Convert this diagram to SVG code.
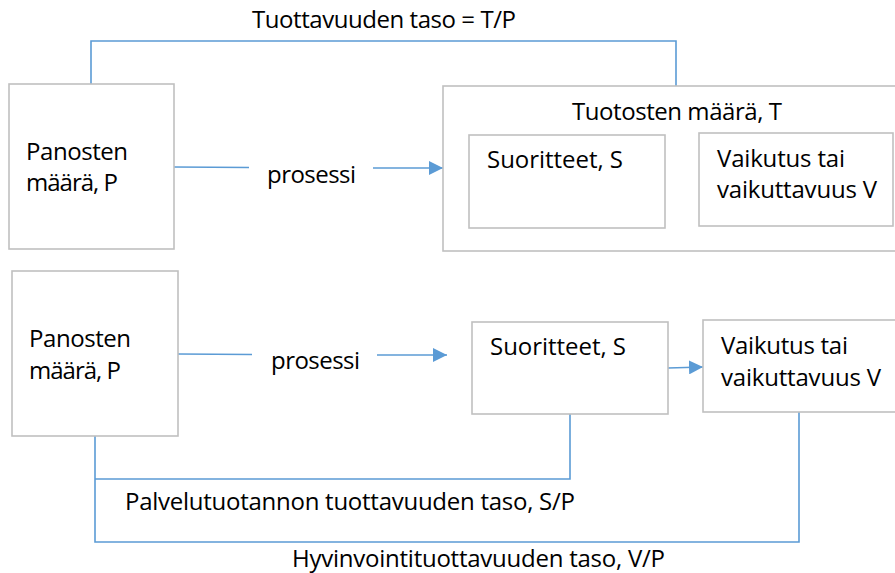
<svg xmlns="http://www.w3.org/2000/svg" width="895" height="573" viewBox="0 0 895 573">
<style>
.box{fill:#ffffff;stroke:#c0c0c0;stroke-width:1.6}
.conn{fill:none;stroke:#5b9bd5;stroke-width:1.6}
.t{font-family:"Open Sans","Noto Sans","Liberation Sans",sans-serif;font-size:24px;fill:#000000}
</style>
<defs>
<marker id="ah" markerUnits="userSpaceOnUse" markerWidth="16" markerHeight="14" refX="14" refY="7" orient="auto">
<path d="M0,0 L14,7 L0,14 Z" fill="#5b9bd5"/>
</marker>
</defs>
<rect width="895" height="573" fill="#ffffff"/>

<g id="connectors">
<path class="conn" d="M91,84 V41 H676 V86"/>
<path class="conn" d="M174,167 L249,167.5"/>
<path class="conn" d="M373,168 L443,168" marker-end="url(#ah)"/>
<path class="conn" d="M178,354 L252,354.5"/>
<path class="conn" d="M377,355 L447,355" marker-end="url(#ah)"/>
<path class="conn" d="M668,368 L703,367" marker-end="url(#ah)"/>
<path class="conn" d="M95,436 V542 H799 V412"/>
<path class="conn" d="M95,479 H570 V414"/>
<text class="t" x="252" y="28" textLength="264">Tuottavuuden taso = T/P</text>
<text class="t" x="267" y="183" textLength="89">prosessi</text>
<text class="t" x="271" y="369" textLength="89">prosessi</text>
<text class="t" x="125" y="510" textLength="450">Palvelutuotannon tuottavuuden taso, S/P</text>
<text class="t" x="292" y="567" textLength="373">Hyvinvointituottavuuden taso, V/P</text>
</g>

<g id="panosten1">
<rect class="box" x="9" y="84" width="165" height="165"/>
<text class="t" x="26" y="160" textLength="102">Panosten</text>
<text class="t" x="26" y="191" textLength="92">määrä, P</text>
</g>

<g id="tuotosten">
<rect class="box" x="443" y="86" width="456" height="165"/>
<text class="t" x="572" y="120" textLength="210">Tuotosten  määrä, T</text>
</g>

<g id="suoritteet1">
<rect class="box" x="469" y="135" width="196" height="93"/>
<text class="t" x="487" y="168" textLength="136">Suoritteet, S</text>
</g>

<g id="vaikutus1">
<rect class="box" x="699" y="133" width="194" height="93"/>
<text class="t" x="717" y="167" textLength="128">Vaikutus tai</text>
<text class="t" x="717" y="198" textLength="160">vaikuttavuus V</text>
</g>

<g id="panosten2">
<rect class="box" x="12" y="271" width="166" height="165"/>
<text class="t" x="29" y="347" textLength="102">Panosten</text>
<text class="t" x="29" y="379" textLength="92">määrä, P</text>
</g>

<g id="suoritteet2">
<rect class="box" x="472" y="322" width="196" height="92"/>
<text class="t" x="490" y="355" textLength="136">Suoritteet, S</text>
</g>

<g id="vaikutus2">
<rect class="box" x="703" y="320" width="196" height="92"/>
<text class="t" x="721" y="354" textLength="127">Vaikutus tai</text>
<text class="t" x="721" y="386" textLength="160">vaikuttavuus V</text>
</g>
</svg>
